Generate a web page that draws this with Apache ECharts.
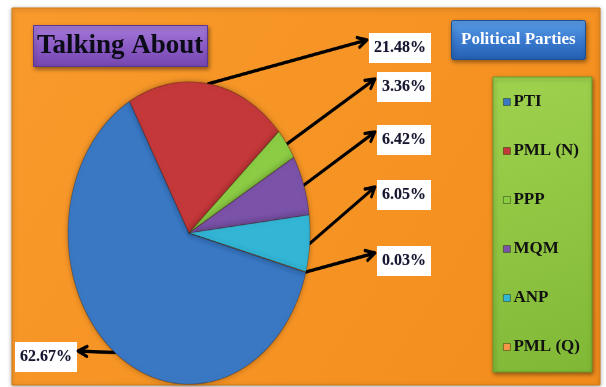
<!DOCTYPE html>
<html>
<head>
<meta charset="utf-8">
<script src="https://cdn.jsdelivr.net/npm/echarts@6/dist/echarts.min.js"></script>
<style>
html,body{margin:0;padding:0;background:#fff;overflow:hidden;}
#wrap{position:relative;width:606px;height:387px;overflow:hidden;}
#base{position:absolute;left:0;top:0;width:606px;height:387px;}
#pie{position:absolute;left:0;top:0;width:606px;height:387px;pointer-events:none;
     transform:scaleY(1.25);transform-origin:0 233px;}
</style>
</head>
<body>
<div id="wrap"><div id="base"></div><div id="pie"></div></div>
<script>
// ---- data ----
var parties = ['PTI', 'PML (N)', 'PPP', 'MQM', 'ANP', 'PML (Q)'];
var shares = [62.67, 21.48, 3.36, 6.42, 6.05, 0.03];
var partyColors = ['#3a78c4', '#c4383a', '#8ccc44', '#7a52a8', '#33b5d5', '#f79646'];
var chartTitle = 'Talking About';
var legendTitle = 'Political Parties';

// ---- layout (text / geometry only) ----
var labelY = [357, 48, 87, 140, 195, 261];   // label box centres
var PIE_CX = 189, PIE_CY = 233, PIE_R = 121, SY = 1.25; // pie drawn as ellipse (scaled vertically)
var LEFT_EDGE = 15, RIGHT_EDGE = 431;

var serif = 'Liberation Serif';
var labelText = function (p) { return p.value.toFixed(2) + '%'; };
var pieData = parties.map(function (n, i) { return {name: n, value: shares[i]}; });

function labelBaseStyle(visible) {
  return {
    show: true,
    position: 'outside',
    formatter: labelText,
    fontFamily: serif, fontWeight: 'bold', fontSize: 16,
    color: visible ? '#15152e' : 'rgba(0,0,0,0)',
    lineHeight: 17,
    backgroundColor: visible ? '#ffffff' : 'transparent',
    padding: [7, 5, 6, 5],
    textShadowColor: visible ? 'rgba(40,40,90,0.35)' : 'transparent',
    textShadowBlur: visible ? 1 : 0
  };
}
function isLeftLabel(i) {
  // side of the label follows the slice's mid-angle
  var before = 0, total = 0;
  for (var k = 0; k < shares.length; k++) { total += shares[k]; }
  for (var k2 = 0; k2 < i; k2++) { before += shares[k2]; }
  var mid = 345 - (before + shares[i] / 2) / total * 360;
  return Math.cos(mid * Math.PI / 180) < 0;
}

// ---------- base chart: panel, titles, legend, label boxes ----------
var base = echarts.init(document.getElementById('base'));
base.setOption({
  backgroundColor: '#ffffff',
  animation: false,
  graphic: [{
    type: 'rect', z: -10,
    shape: {x: 12, y: 8, width: 588, height: 377},
    style: {
      fill: new echarts.graphic.LinearGradient(0, 0, 1, 1, [
        {offset: 0, color: '#f99a2c'}, {offset: 1, color: '#f28d1c'}]),
      stroke: '#d07a18', lineWidth: 1,
      shadowBlur: 4, shadowColor: 'rgba(0,0,0,0.35)', shadowOffsetY: 1
    }
  }],
  title: [{
    text: chartTitle,
    left: 33, top: 25,
    padding: [6, 4, 6, 4],
    backgroundColor: new echarts.graphic.LinearGradient(0, 0, 0, 1, [
      {offset: 0, color: '#a57bd8'}, {offset: 0.5, color: '#8c5cc6'}, {offset: 1, color: '#7446ae'}]),
    borderColor: '#5c3590', borderWidth: 1,
    shadowBlur: 4, shadowColor: 'rgba(0,0,0,0.4)', shadowOffsetX: 1, shadowOffsetY: 2,
    textStyle: {fontFamily: serif, fontWeight: 'bold', fontSize: 27, color: '#0c0c18', lineHeight: 30}
  }, {
    text: legendTitle,
    left: 451, top: 20,
    padding: [10, 10, 11, 10],
    backgroundColor: new echarts.graphic.LinearGradient(0, 0, 0, 1, [
      {offset: 0, color: '#5b9ee8'}, {offset: 0.5, color: '#3a7bd0'}, {offset: 1, color: '#245fb0'}]),
    borderColor: '#1d4f96', borderWidth: 1, borderRadius: 2,
    shadowBlur: 4, shadowColor: 'rgba(0,0,0,0.4)', shadowOffsetX: 1, shadowOffsetY: 2,
    textStyle: {fontFamily: serif, fontWeight: 'bold', fontSize: 17, color: '#ffffff', lineHeight: 19}
  }],
  legend: {
    orient: 'vertical',
    left: 493, top: 77,
    padding: [15, 12, 15, 10],
    itemGap: 29,
    itemWidth: 7, itemHeight: 7,
    icon: 'rect',
    data: parties.map(function (n, i) {
      return {name: n, itemStyle: {color: partyColors[i], borderColor: 'rgba(30,40,10,0.55)', borderWidth: 0.8, opacity: 1}};
    }),
    backgroundColor: new echarts.graphic.LinearGradient(0, 0, 1, 1, [
      {offset: 0, color: '#9fd24e'}, {offset: 1, color: '#80b836'}]),
    borderColor: '#6d9a2c', borderWidth: 1,
    shadowBlur: 4, shadowColor: 'rgba(0,0,0,0.4)', shadowOffsetX: 1, shadowOffsetY: 2,
    textStyle: {fontFamily: serif, fontWeight: 'bold', fontSize: 17, color: '#111111', lineHeight: 20, padding: [0, 0, 0, -2]}
  },
  color: partyColors,
  series: [{
    type: 'pie',
    center: [PIE_CX, PIE_CY],
    radius: PIE_R,
    startAngle: 345,
    clockwise: true,
    silent: true,
    avoidLabelOverlap: false,
    data: pieData,
    itemStyle: {color: 'rgba(0,0,0,0)', borderWidth: 0},
    emphasis: {disabled: true},
    label: labelBaseStyle(true),
    labelLine: {show: false},
    labelLayout: function (params) {
      var left = isLeftLabel(params.dataIndex);
      return {
        x: left ? LEFT_EDGE : RIGHT_EDGE,
        y: labelY[params.dataIndex],
        align: left ? 'left' : 'right',
        verticalAlign: 'middle'
      };
    }
  }]
});

// ---------- pie chart (scaled vertically into an ellipse) with arrows ----------
function toPieY(y) { return PIE_CY + (y - PIE_CY) / SY; }
function fromPieY(y) { return PIE_CY + (y - PIE_CY) * SY; }

var pie = echarts.init(document.getElementById('pie'), null, {devicePixelRatio: 2});
pie.setOption({
  backgroundColor: 'transparent',
  animation: false,
  color: partyColors,
  series: [{
    type: 'pie',
    center: [PIE_CX, PIE_CY],
    radius: PIE_R,
    startAngle: 345,
    clockwise: true,
    silent: true,
    avoidLabelOverlap: false,
    data: pieData,
    itemStyle: {
      borderColor: 'rgba(40,20,10,0.35)', borderWidth: 0.8,
      shadowBlur: 6, shadowColor: 'rgba(0,0,0,0.3)'
    },
    label: labelBaseStyle(false),
    labelLine: {show: true, length: 10, length2: 0, lineStyle: {color: '#000000', width: 2.7, join: 'round', cap: 'round'}},
    labelLayout: function (params) {
      var i = params.dataIndex;
      var left = isLeftLabel(i);
      var w = params.labelRect.width;
      var start = params.labelLinePoints[0];
      var sx = start[0], sy = fromPieY(start[1]);
      var tx = left ? LEFT_EDGE + w + 1 : RIGHT_EDGE - w - 2;
      var ty = labelY[i] + (left ? -6 : -8);
      var dx = tx - sx, dy = ty - sy, len = Math.sqrt(dx * dx + dy * dy);
      var ux = dx / len, uy = dy / len, nx = -uy, ny = ux;
      var L = 9, H = 5;
      var b1 = [tx - L * ux + H * nx, ty - L * uy + H * ny];
      var b2 = [tx - L * ux - H * nx, ty - L * uy - H * ny];
      var pts = [[sx, sy], [tx, ty], b1, [tx, ty], b2].map(function (p) {
        return [p[0], toPieY(p[1])];
      });
      return {labelLinePoints: pts};
    }
  }]
});
</script>
</body>
</html>
